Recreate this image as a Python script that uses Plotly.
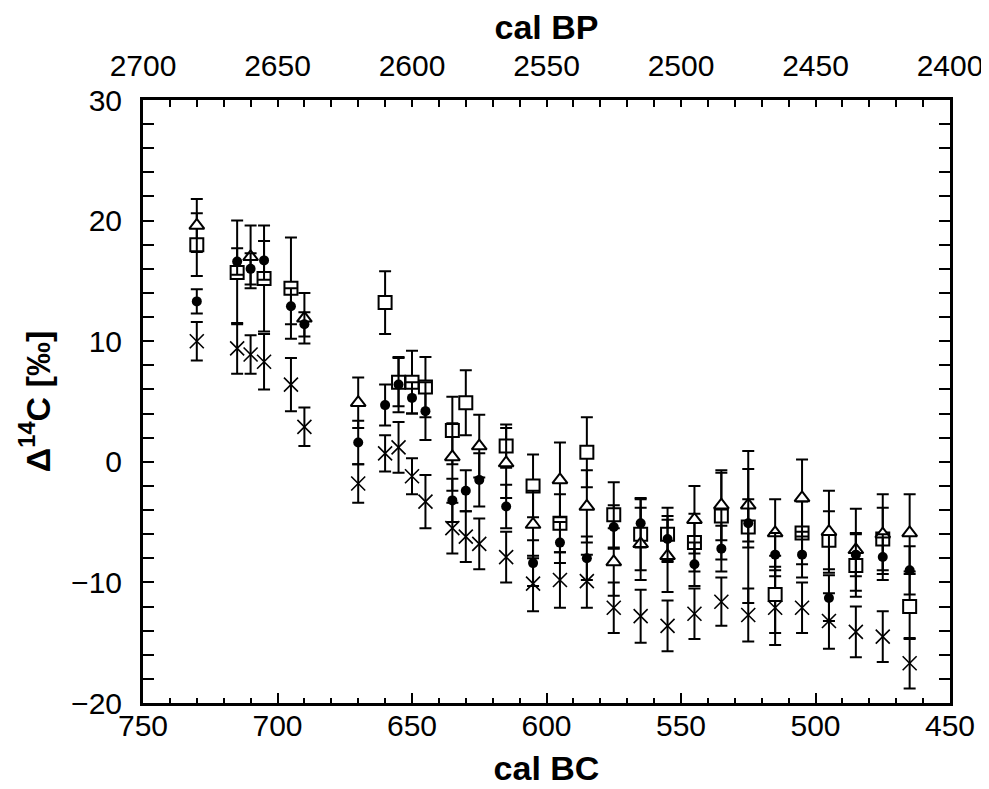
import plotly.graph_objects as go

# ---------------- data (cal BC, Δ14C ‰, 1σ error) ----------------
tri_x = [730, 710, 690, 670, 635, 625, 615, 605, 595, 585, 575, 565, 555, 545, 535, 525, 515, 505, 495, 485, 475, 465]
tri_y = [19.6, 17.0, 11.9, 4.9, 0.4, 1.3, -0.1, -5.2, -1.5, -3.7, -8.3, -6.8, -7.8, -4.8, -3.6, -3.6, -5.9, -3.0, -5.8, -7.3, -6.0, -5.9]
tri_e = [2.2, 2.6, 2.1, 2.1, 2.8, 2.6, 2.9, 2.8, 3.1, 3.0, 2.8, 3.0, 3.0, 2.8, 2.9, 3.0, 2.8, 3.2, 3.4, 3.4, 3.3, 3.2]

circ_x = [730, 715, 710, 705, 695, 690, 670, 660, 655, 650, 645, 635, 630, 625, 615, 605, 595, 585, 575, 565, 555, 545, 535, 525, 515, 505, 495, 485, 475, 465]
circ_y = [13.3, 16.6, 16.0, 16.7, 12.9, 11.4, 1.6, 4.7, 6.4, 5.3, 4.2, -3.2, -2.4, -1.5, -3.7, -8.4, -6.7, -8.0, -5.4, -5.1, -6.4, -8.5, -7.2, -5.1, -7.7, -7.7, -11.3, -7.7, -7.9, -9.0]
circ_e = [1.0, 1.1, 1.3, 1.6, 1.5, 1.0, 1.8, 1.7, 2.3, 1.3, 2.4, 1.8, 1.7, 2.2, 1.8, 1.9, 1.7, 1.8, 1.8, 2.0, 1.9, 1.8, 1.9, 2.0, 1.8, 1.9, 1.9, 1.8, 1.9, 2.0]

sq_x = [730, 715, 705, 695, 660, 655, 650, 645, 635, 630, 615, 605, 595, 585, 575, 565, 555, 545, 535, 525, 515, 505, 495, 485, 475, 465]
sq_y = [18.0, 15.7, 15.2, 14.4, 13.2, 6.6, 6.6, 6.2, 2.6, 4.9, 1.3, -2.0, -5.1, 0.8, -4.4, -6.0, -6.0, -6.7, -4.5, -5.4, -11.0, -5.9, -6.5, -8.6, -6.4, -12.0]
sq_e = [2.6, 4.3, 4.4, 4.2, 2.6, 2.0, 2.6, 2.5, 2.8, 2.7, 1.8, 2.6, 2.4, 2.9, 2.7, 3.0, 2.2, 2.4, 3.6, 6.3, 3.2, 2.6, 2.4, 2.6, 2.6, 2.7]

cr_x = [730, 715, 710, 705, 695, 690, 670, 660, 655, 650, 645, 635, 630, 625, 615, 605, 595, 585, 575, 565, 555, 545, 535, 525, 515, 505, 495, 485, 475, 465]
cr_y = [10.0, 9.4, 8.9, 8.3, 6.4, 2.9, -1.8, 0.7, 1.2, -1.2, -3.3, -5.5, -6.2, -6.8, -7.9, -10.1, -9.8, -9.9, -12.1, -12.8, -13.6, -12.6, -11.6, -12.7, -12.1, -12.1, -13.2, -14.1, -14.5, -16.7]
cr_e = [1.6, 2.1, 1.6, 2.3, 2.2, 1.6, 1.6, 1.5, 2.1, 1.5, 2.2, 2.1, 2.1, 2.1, 2.1, 2.3, 2.3, 2.2, 2.1, 2.2, 2.1, 2.1, 2.0, 2.2, 3.1, 2.1, 2.3, 2.1, 2.1, 2.1]

x_range_bc = [750, 450]
x_range_bp = [2700, 2400]

FONT = "Liberation Sans"

fig = go.Figure()


def add(x, y, e, symbol, size, lw, fill):
    fig.add_trace(go.Scatter(
        x=x, y=y, mode="markers",
        error_y=dict(type="data", array=e, visible=True, color="black",
                     thickness=2, width=6),
        marker=dict(symbol=symbol, size=size, color=fill,
                    line=dict(color="black", width=lw)),
        showlegend=False, hoverinfo="skip"))


add(cr_x, cr_y, cr_e, "x-thin-open", 14, 1.6, "black")
add(sq_x, sq_y, sq_e, "square", 13, 2, "white")
add(tri_x, tri_y, tri_e, "triangle-up", 13, 2, "white")
add(circ_x, circ_y, circ_e, "circle", 10, 0, "black")

# invisible trace for the top (cal BP) axis
fig.add_trace(go.Scatter(x=x_range_bp, y=[0, 0], xaxis="x2", mode="markers",
                         marker=dict(opacity=0), showlegend=False, hoverinfo="skip"))

fig.update_layout(
    width=989, height=789,
    margin=dict(l=135, r=47, t=92, b=94),
    paper_bgcolor="white", plot_bgcolor="white",
    font=dict(family=FONT, color="black"),
    xaxis=dict(
        range=x_range_bc, tickmode="linear", tick0=450, dtick=50,
        ticks="inside", ticklen=10, tickwidth=2, tickcolor="black",
        minor=dict(dtick=10, ticks="inside", ticklen=5, tickwidth=2, tickcolor="black"),
        showline=True, linewidth=3, linecolor="black", mirror=False,
        showgrid=False, zeroline=False, automargin=False,
        tickfont=dict(size=30, family=FONT),
        ticklabelstandoff=-6,
        title=dict(text="<b>cal BC</b>", font=dict(size=34, family=FONT), standoff=16),
    ),
    xaxis2=dict(
        range=x_range_bp, overlaying="x", side="top", anchor="y",
        tickmode="linear", tick0=2400, dtick=50,
        ticks="inside", ticklen=7, tickwidth=2, tickcolor="black",
        minor=dict(dtick=10, ticks="inside", ticklen=7, tickwidth=2, tickcolor="black"),
        showline=True, linewidth=3, linecolor="black",
        showgrid=False, zeroline=False, automargin=False,
        tickfont=dict(size=30, family=FONT),
        ticklabelstandoff=9,
        title=dict(text="<b>cal BP</b>", font=dict(size=34, family=FONT), standoff=6),
    ),
    yaxis=dict(
        range=[-20, 30], tickmode="linear", tick0=0, dtick=10,
        ticks="inside", ticklen=11, tickwidth=2, tickcolor="black",
        minor=dict(dtick=2, ticks="inside", ticklen=6, tickwidth=2, tickcolor="black"),
        showline=True, linewidth=3, linecolor="black", mirror="allticks",
        showgrid=False, zeroline=False, automargin=False,
        tickfont=dict(size=30, family=FONT),
        ticklabelstandoff=12,
        title=dict(text="<b>Δ<sup>14</sup>C [‰]</b>", font=dict(size=34, family=FONT), standoff=11),
    ),
)

fig.write_html("out.html")
